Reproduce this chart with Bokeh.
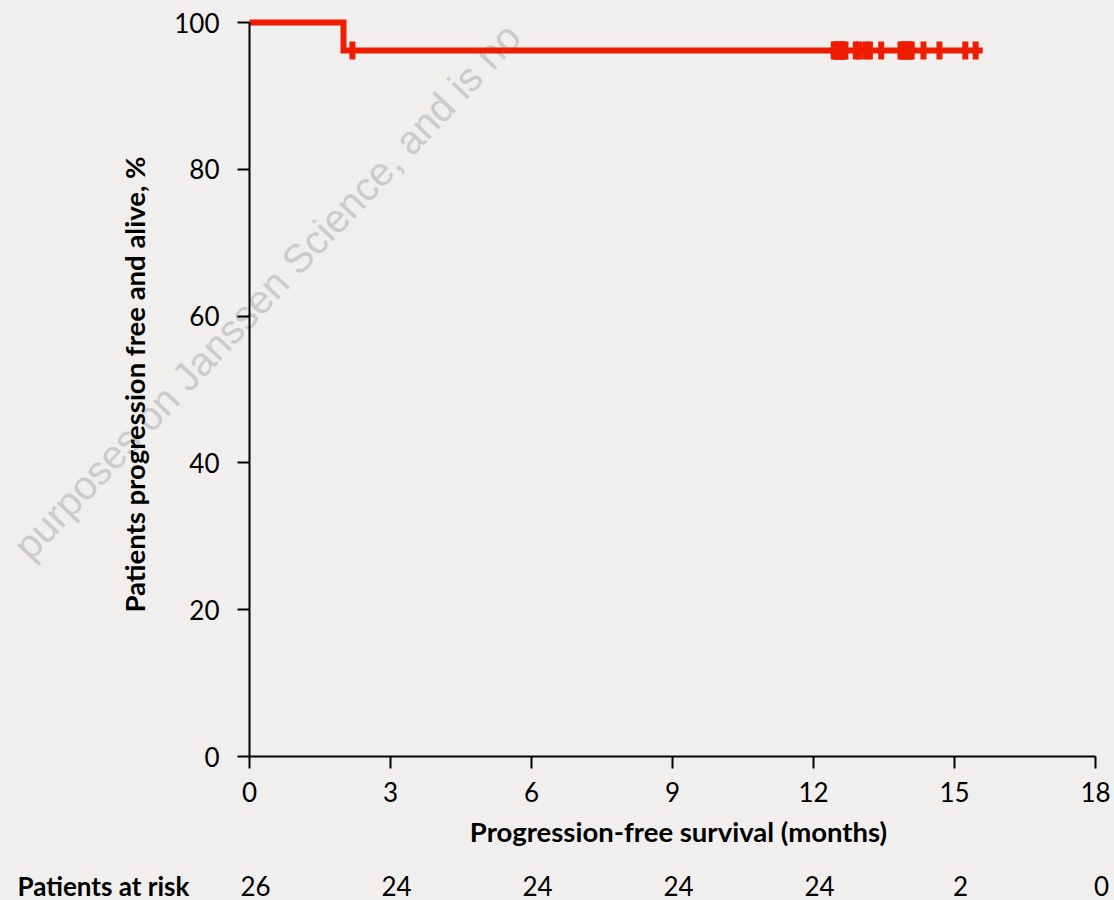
import math
from bokeh.plotting import figure
from bokeh.models import Range1d, FixedTicker
from bokeh.core.properties import value
from bokeh.embed import file_html
from bokeh.resources import INLINE

# ---- data ----
curve_time = [0.0, 2.0, 15.6]            # months
curve_surv = [100.0, 96.2, 96.2]         # % progression free and alive
censor_time = [2.19,
               12.43, 12.47, 12.50, 12.53, 12.57, 12.60, 12.64, 12.68,
               12.90, 12.97, 13.10, 13.20, 13.44,
               13.85, 13.89, 13.93, 13.97, 14.01, 14.05, 14.09,
               14.34, 14.68, 15.23, 15.45]
censor_surv = [96.2] * len(censor_time)
x_ticks = [0, 3, 6, 9, 12, 15, 18]
y_ticks = [0, 20, 40, 60, 80, 100]
risk_time = [0, 3, 6, 9, 12, 15, 18]
risk_count = ["26", "24", "24", "24", "24", "2", "0"]
x_title = "Progression-free survival (months)"
y_title = "Patients progression free and alive, %"
risk_title = "Patients at risk"
watermark = "purposes on Janssen Science, and is no"

BG = "#F0EFED"
RED = "#EE1C00"
FONT = "Lato"

# canvas geometry: axis origin at (249, 756) px, 47 px per month, 7.34 px per %
W, H = 1114, 900
X0, Y0, SX, SY = 249.0, 756.0, 47.0, 7.34
def dx(px):
    return (px - X0) / SX
def dy(py):
    return (Y0 - py) / SY

p = figure(width=W, height=H, output_backend="svg", toolbar_location=None,
           x_range=Range1d(dx(0), dx(W)), y_range=Range1d(dy(H), dy(0)),
           min_border_left=0, min_border_right=0, min_border_top=0, min_border_bottom=0)
p.background_fill_color = BG
p.border_fill_color = BG
p.outline_line_color = None
p.grid.visible = False

# watermark (behind everything)
p.text(x=[dx(20)], y=[dy(552)], text=[watermark], angle=46.7, angle_units="deg",
       text_font=value("Liberation Sans"), text_font_size="40px", text_color="#CBCBCB",
       text_align="left", text_baseline="middle", level="underlay")

p.xaxis.fixed_location = 0
p.yaxis.fixed_location = 0
for ax, ticks, bnds in ((p.xaxis[0], x_ticks, (0, 18)), (p.yaxis[0], y_ticks, (0, 100))):
    ax.ticker = FixedTicker(ticks=ticks)
    ax.bounds = bnds
    ax.axis_line_width = 2
    ax.axis_line_color = "black"
    ax.major_tick_line_width = 2
    ax.major_tick_line_color = "black"
    ax.major_tick_in = 0
    ax.major_tick_out = 12
    ax.minor_tick_line_color = None
    ax.major_label_text_font = FONT
    ax.major_label_text_font_size = "26px"
    ax.major_label_text_color = "black"
p.xaxis.major_label_standoff = 13
p.yaxis.major_label_standoff = 18

# axis titles
p.text(x=[dx(678)], y=[dy(831)], text=[x_title], text_font=value(FONT),
       text_font_style="bold", text_font_size="27.5px", text_color="black",
       text_align="center", text_baseline="middle")
p.text(x=[dx(133.5)], y=[dy(384)], text=[y_title], angle=90, angle_units="deg",
       text_font=value(FONT), text_font_style="bold", text_font_size="27.5px",
       text_color="black", text_align="center", text_baseline="middle")

# survival curve and censor marks
p.step(curve_time, curve_surv, mode="after", line_color=RED, line_width=6, line_join="miter")
p.rect(x=censor_time, y=censor_surv, width=6, height=18, width_units="screen",
       height_units="screen", fill_color=RED, line_color=None)

# patients at risk row
p.text(x=[dx(17)], y=[dy(885)], text=[risk_title], text_font=value(FONT),
       text_font_style="bold", text_font_size="26px", text_color="black",
       text_align="left", text_baseline="middle")
p.text(x=risk_time, y=[dy(885)] * len(risk_time), text=risk_count, x_offset=6,
       text_font=value(FONT), text_font_size="26px", text_color="black",
       text_align="center", text_baseline="middle")

html = file_html(p, INLINE)
html = html.replace("<head>", "<head><style>html,body{background:%s;}</style>" % BG, 1)
open("out.html", "w").write(html)
